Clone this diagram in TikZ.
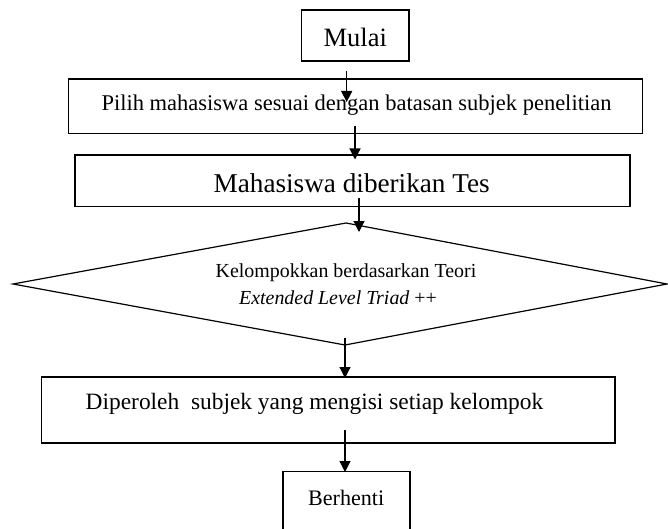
\documentclass[tikz,border=0pt]{standalone}
\usepackage{fontspec}
\setmainfont{Liberation Serif}
\usetikzlibrary{arrows.meta}
\tikzset{
  boxline/.style={draw=black, line width=1.2pt},
  lbl/.style={inner sep=0pt, anchor=center},
  flow/.style={line width=1.2pt, -{Triangle[length=11pt,width=11pt]}}
}
\begin{document}
\begin{tikzpicture}[x=1pt,y=-1pt]
\useasboundingbox (0,0) rectangle (668,529);
% boxes
\draw[boxline] (301.7,10) rectangle (409,61);
\draw[boxline] (68.3,79) rectangle (642.7,133.5);
\draw[boxline] (75,155) rectangle (630,206.7);
\draw[boxline] (13,284) coordinate (dl) -- (346,223) coordinate (dt) -- (667,284) coordinate (dr) -- (345,345) coordinate (db) -- cycle;
\draw[boxline] (41.7,377) rectangle (615,443);
\draw[boxline] (283,471.7) rectangle (410,529.5);
% texts
\node[lbl, font=\fontsize{26.5}{30}\selectfont] (mulai) at (355.3,37) {Mulai};
\node[lbl, font=\fontsize{22.5}{26}\selectfont] (pilih) at (356.5,105) {Pilih mahasiswa sesuai dengan batasan subjek penelitian};
\node[lbl, font=\fontsize{27.2}{31}\selectfont] (tes) at (351.7,183) {Mahasiswa diberikan Tes};
\node[lbl, font=\fontsize{19.9}{23}\selectfont] (kel) at (346,273) {Kelompokkan berdasarkan Teori};
\node[lbl, font=\fontsize{19.9}{23}\selectfont] (ext) at (338,298) {\textit{Extended Level Triad} ++};
\node[lbl, font=\fontsize{23.4}{27}\selectfont] (dip) at (314.5,404) {Diperoleh\ \ subjek yang mengisi setiap kelompok};
\node[lbl, font=\fontsize{22.1}{26}\selectfont] (stop) at (346.2,497.5) {Berhenti};
% connectors
\coordinate (a1s) at (346.7,70.7); \coordinate (a1e) at (346.7,102);
\coordinate (a2s) at (355,126); \coordinate (a2e) at (355,159.5);
\coordinate (a3s) at (359,198); \coordinate (a3e) at (359,232);
\coordinate (a4s) at (345,338); \coordinate (a4e) at (345,378);
\coordinate (a5s) at (345,430); \coordinate (a5e) at (345,472);
\draw[flow] (a1s) -- (a1e);
\draw[flow] (a2s) -- (a2e);
\draw[flow] (a3s) -- (a3e);
\draw[flow] (a4s) -- (a4e);
\draw[flow] (a5s) -- (a5e);
\end{tikzpicture}
\end{document}
